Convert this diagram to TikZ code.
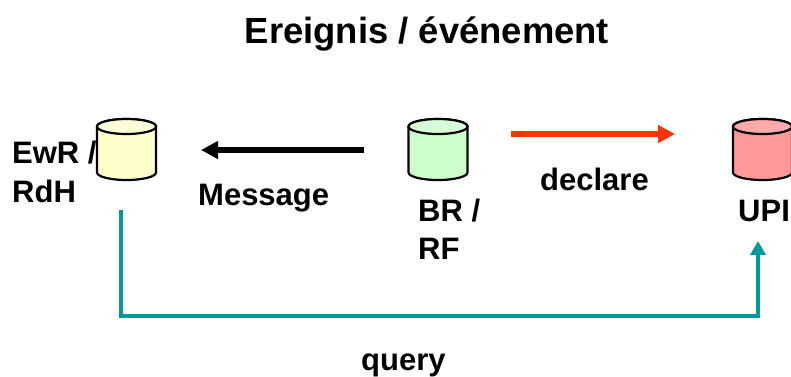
\documentclass[tikz,border=0pt]{standalone}
\usepackage{fontspec}
\setmainfont{Liberation Sans}
\usetikzlibrary{arrows.meta,calc}
\definecolor{tealline}{RGB}{0,153,153}
\definecolor{redline}{RGB}{255,51,0}
\definecolor{ybody}{RGB}{255,255,204}
\definecolor{yend}{RGB}{255,255,215}
\definecolor{gbody}{RGB}{204,255,204}
\definecolor{gend}{RGB}{215,255,215}
\definecolor{rbody}{RGB}{255,153,153}
\definecolor{rend}{RGB}{255,170,170}
\newcommand{\dbshape}[4]{%
  \node[dbbox] (#1) at (#2,149.5) {};
  \draw[dbline,fill=#3] (#1.north west) ++(0,7.5)
    -- ++(0,46) arc[start angle=180,end angle=360,x radius=29.5,y radius=-7.5]
    -- ++(0,-46) arc[start angle=0,end angle=180,x radius=29.5,y radius=-7.5] -- cycle;
  \draw[dbline,fill=#4] (#1.north west) ++(0,7.5)
    arc[start angle=180,end angle=-180,x radius=29.5,y radius=-7.5] -- cycle;
}
\tikzset{
  dbbox/.style={minimum width=59pt,minimum height=61pt,inner sep=0pt,outer sep=0pt},
  dbline/.style={draw=black,line width=2.2pt,line join=round},
  lab/.style={font=\fontsize{31}{37}\selectfont\bfseries,anchor=base west,inner sep=0pt,align=left},
  ttl/.style={font=\fontsize{36.4}{42}\selectfont\bfseries,anchor=base,inner sep=0pt},
}
\begin{document}
\begin{tikzpicture}[x=1pt,y=-1pt]
\useasboundingbox (0,0) rectangle (791,376);
\node[ttl] (title) at (427,43) {Ereignis / événement};
\node[lab] (ewr) at (12,163) {EwR /};
\node[lab] (rdh) at (12,202) {RdH};
\dbshape{a}{126.5}{ybody}{yend}
\dbshape{b}{438}{gbody}{gend}
\dbshape{c}{762.5}{rbody}{rend}
\node[lab] (msg) at (198,205) {Message};
\node[lab] (dec) at (540,190) {declare};
\node[lab] (br) at (418,221) {BR /};
\node[lab] (rf) at (418,259) {RF};
\node[lab] (upi) at (738,221) {UPI};
\node[lab] (qry) at (361,370) {query};
\coordinate (m1) at (364,150);
\coordinate (m2) at (201,150);
\coordinate (d1) at (511,134);
\coordinate (d2) at (675,134);
\coordinate (q1) at (121,210);
\coordinate (q2) at (121,316);
\coordinate (q3) at (758,316);
\coordinate (q4) at (758,241);
\draw[line width=5.5pt,-{Triangle[length=17pt,width=17pt]}] (m1) -- (m2);
\draw[line width=5.5pt,redline,-{Triangle[length=17pt,width=17pt]}] (d1) -- (d2);
\draw[line width=3.5pt,tealline,-{Triangle[length=14pt,width=15pt]}] (q1) -- (q2) -- (q3) -- (q4);
\end{tikzpicture}
\end{document}
